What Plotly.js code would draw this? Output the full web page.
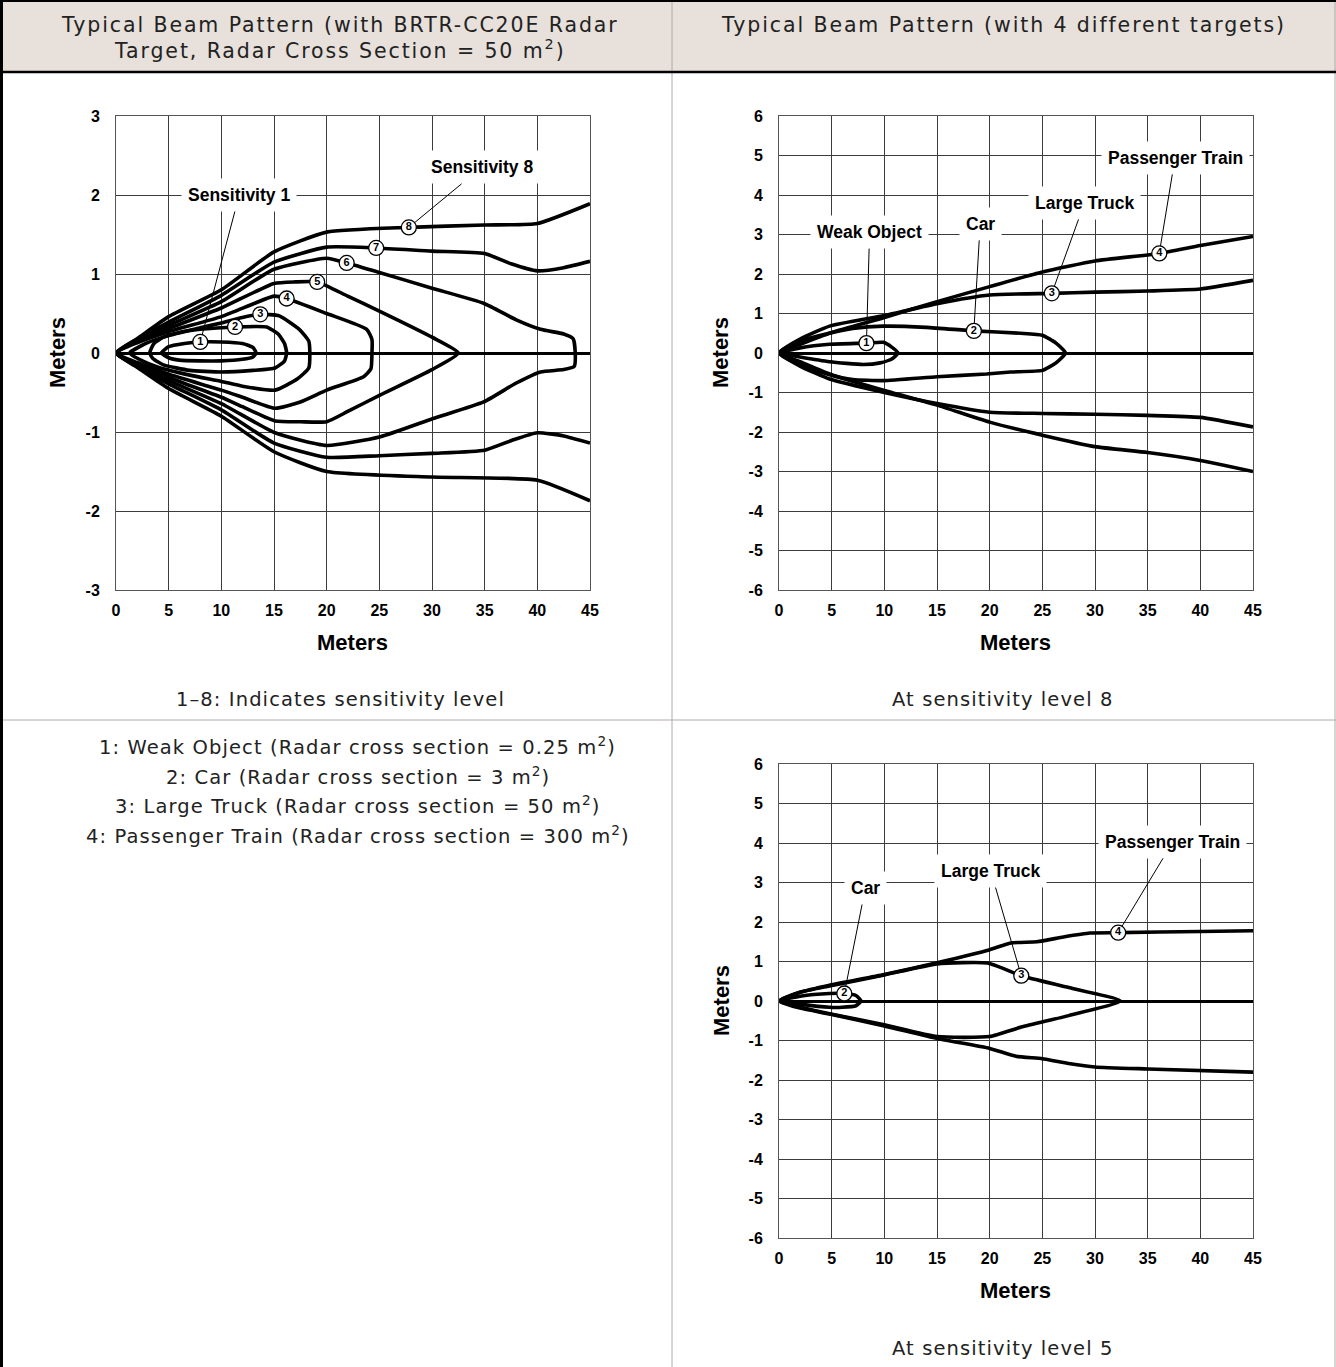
<!DOCTYPE html>
<html><head><meta charset="utf-8">
<script src="https://cdn.plot.ly/plotly-3.0.1.min.js"></script>
<style>html,body{margin:0;padding:0;background:#fff}</style>
</head><body><div id="chart" style="width:1336px;height:1367px"></div>
<script>
// ---------- Chart 1: sensitivity levels 1..8 (BRTR-CC20E target) ----------
const s1X = [4.3,5,6.5,8,10,12,13,13.3,13,12,10,8,6,5,4.3];
const s1Y = [0,0.08,0.12,0.14,0.14,0.12,0.07,0,-0.05,-0.08,-0.1,-0.1,-0.09,-0.06,0];
const s2X = [3.2,3.6,4.5,6,8,11.3,14.3,15.4,16,16.2,16,15.1,13,10,7,4.5,3.5,3.2];
const s2Y = [0,0.12,0.2,0.26,0.3,0.33,0.33,0.24,0.12,0,-0.1,-0.19,-0.22,-0.24,-0.22,-0.15,-0.07,0];
const s3X = [1.3,3,5,8,10,12,13.7,15.5,17.4,18.3,18.4,18.3,17.2,15.1,12,10,7,4,2.5,1.3];
const s3Y = [0,0.13,0.22,0.32,0.38,0.45,0.49,0.47,0.3,0.15,0,-0.19,-0.33,-0.47,-0.42,-0.36,-0.28,-0.18,-0.1,0];
const s4X = [0,2,5,10,13,15,16.2,20,23.8,24.3,24.3,24.2,23.5,20,17.5,15.1,12,10,5,2,0];
const s4Y = [0,0.13,0.27,0.46,0.62,0.72,0.69,0.5,0.3,0.17,0,-0.2,-0.3,-0.47,-0.62,-0.7,-0.56,-0.47,-0.27,-0.12,0];
const s5X = [0,2,5,10,15,17,19.1,22,25,30,32.5,30,25.1,22,20,17.5,15.1,12,10,5,2,0];
const s5Y = [0,0.15,0.31,0.57,0.88,0.9,0.9,0.72,0.53,0.2,0,-0.21,-0.53,-0.74,-0.87,-0.87,-0.86,-0.68,-0.56,-0.31,-0.14,0];
const s6X = [0,2,5,10,15,20,21.9,25,30,34.9,38,40.3,42.5,43.4,43.6,43.5,42.5,40.3,38,34.9,30.1,25.1,20,15.1,10,5,2,0];
const s6Y = [0,0.16,0.35,0.65,1.06,1.2,1.14,1.02,0.82,0.63,0.42,0.3,0.24,0.18,0,-0.17,-0.21,-0.24,-0.38,-0.62,-0.83,-1.06,-1.17,-1.01,-0.64,-0.35,-0.16,0];
const s7X = [45,42.5,40,37.5,35,30,24.7,20,15,10,5,2,0,2,5,10,15,20,25,30,35,37.5,40,42.5,45];
const s7Y = [1.16,1.08,1.04,1.13,1.26,1.29,1.33,1.34,1.15,0.73,0.39,0.17,0,-0.17,-0.39,-0.72,-1.14,-1.32,-1.3,-1.27,-1.23,-1.11,-1.01,-1.05,-1.14];
const s8X = [45,40,35,27.8,20,15,10,5,2,0,2,5,10,15,20,30,40,45];
const s8Y = [1.89,1.64,1.62,1.59,1.53,1.28,0.8,0.46,0.18,0,-0.18,-0.45,-0.8,-1.25,-1.5,-1.57,-1.61,-1.87];
const lvlTags = ['1','2','3','4','5','6','7','8'];
const lvlTagX = [8.0,11.3,13.7,16.2,19.1,21.9,24.7,27.8];
const lvlTagY = [0.14,0.33,0.49,0.69,0.9,1.14,1.33,1.59];

// ---------- Chart 2: four targets at sensitivity 8 ----------
const weak8X = [0,2,4.8,8.3,9.9,10.7,11.3,10.7,9.6,8,4.8,2,0];
const weak8Y = [0,0.13,0.22,0.25,0.27,0.15,0,-0.15,-0.25,-0.29,-0.22,-0.1,0];
const car8X = [0,2,4.8,7,9.9,14,18.5,22.9,25,26.3,27.2,26.3,25,22,19.7,15,9.9,7,4.8,2,0];
const car8Y = [0,0.3,0.5,0.62,0.68,0.65,0.56,0.5,0.45,0.25,0,-0.25,-0.44,-0.48,-0.53,-0.6,-0.7,-0.67,-0.55,-0.3,0];
const truck8X = [45,40,35,30,25.9,20,15,10,4.8,2,0,2,4.8,10,15,20,25,30,35,40,45];
const truck8Y = [1.84,1.62,1.57,1.54,1.51,1.47,1.25,0.95,0.68,0.35,0,-0.33,-0.66,-1.0,-1.28,-1.5,-1.53,-1.55,-1.58,-1.63,-1.87];
const train8X = [45,40,36.1,30,25,20,15,10,5,2,0,2,5,10,15,20,25,30,35,40,45];
const train8Y = [2.95,2.72,2.52,2.33,2.05,1.68,1.3,0.9,0.52,0.22,0,-0.22,-0.55,-0.95,-1.32,-1.75,-2.08,-2.37,-2.52,-2.72,-3.0];
const tgt8Tags = ['1','2','3','4'];
const tgt8TagX = [8.3,18.5,25.9,36.1];
const tgt8TagY = [0.25,0.56,1.51,2.52];
const tgt8Names = ['Weak Object','Car','Large Truck','Passenger Train'];
const tgt8NameX = [8.6,19.1,29.0,37.6];
const tgt8NameY = [3.06,3.27,3.8,4.94];

// ---------- Chart 3: targets at sensitivity 5 ----------
const car5X = [0,2,4.8,6.2,7.3,7.8,7.3,6,4.8,2,0];
const car5Y = [0,0.12,0.19,0.19,0.14,0,-0.12,-0.16,-0.16,-0.08,0];
const truck5X = [0,2,4.8,10,15,19.8,23,27.5,32.4,27.5,23,20,15,10,4.8,2,0];
const truck5Y = [0,0.22,0.38,0.66,0.94,0.96,0.64,0.34,0,-0.37,-0.66,-0.9,-0.9,-0.6,-0.32,-0.15,0];
const train5X = [45,40,32.2,29.5,27,24.5,22,20,15,10,4.8,2,0,2,4.8,10,15,20,22.5,25,27.5,30,35,45];
const train5Y = [1.78,1.76,1.73,1.72,1.62,1.5,1.47,1.3,0.97,0.67,0.4,0.22,0,-0.18,-0.33,-0.63,-0.95,-1.2,-1.4,-1.46,-1.58,-1.67,-1.72,-1.8];
const tgt5Tags = ['2','3','4'];
const tgt5TagX = [6.2,23.0,32.2];
const tgt5TagY = [0.19,0.64,1.73];
const tgt5Names = ['Car','Large Truck','Passenger Train'];
const tgt5NameX = [8.2,20.1,37.4];
const tgt5NameY = [2.86,3.29,4.03];

const xTicks = [0,5,10,15,20,25,30,35,40,45];
const yTicks3 = [-3,-2,-1,0,1,2,3];
const yTickText3 = ['-3','-2','-1','0','1','2','3'];
const yTicks6 = [-6,-5,-4,-3,-2,-1,0,1,2,3,4,5,6];
const yTickText6 = ['-6','-5','-4','-3','-2','-1','0','1','2','3','4','5','6'];

// ---------- helpers ----------
const W = 1336, H = 1367;
const px = p => p / W;
const py = p => 1 - p / H;

const LW = 3.6;
function curve(xs, ys, xa, ya) {
  return {type:'scatter', mode:'lines', x:xs, y:ys, xaxis:xa, yaxis:ya,
    line:{color:'#000', width:LW, shape:'spline', smoothing:0.5}, hoverinfo:'skip'};
}
function tags(xs, ys, t, xa, ya) {
  return {type:'scatter', mode:'markers+text', x:xs, y:ys, text:t, xaxis:xa, yaxis:ya,
    marker:{size:15, color:'#fff', line:{color:'#000', width:1.3}},
    textposition:'middle center',
    textfont:{family:'Liberation Sans, Arial, sans-serif', size:11, color:'#000', weight:'bold'},
    hoverinfo:'skip'};
}

const traces = [
  curve(s1X,s1Y,'x','y'), curve(s2X,s2Y,'x','y'), curve(s3X,s3Y,'x','y'), curve(s4X,s4Y,'x','y'),
  curve(s5X,s5Y,'x','y'), curve(s6X,s6Y,'x','y'), curve(s7X,s7Y,'x','y'), curve(s8X,s8Y,'x','y'),
  tags(lvlTagX,lvlTagY,lvlTags,'x','y'),
  curve(weak8X,weak8Y,'x2','y2'), curve(car8X,car8Y,'x2','y2'),
  curve(truck8X,truck8Y,'x2','y2'), curve(train8X,train8Y,'x2','y2'),
  tags(tgt8TagX,tgt8TagY,tgt8Tags,'x2','y2'),
  curve(car5X,car5Y,'x3','y3'), curve(truck5X,truck5Y,'x3','y3'), curve(train5X,train5Y,'x3','y3'),
  tags(tgt5TagX,tgt5TagY,tgt5Tags,'x3','y3')
];

const tickFont = {family:'Liberation Sans, Arial, sans-serif', size:16, color:'#000', weight:'bold'};
function xAxis(dom, anchor) {
  return {domain:dom, anchor:anchor, range:[0,45], tickvals:xTicks, ticks:'', showgrid:true,
    gridcolor:'#3c3c3c', gridwidth:1, zeroline:false, showline:true, mirror:true,
    linecolor:'#555', linewidth:1, tickfont:tickFont, ticklabelstandoff:6, fixedrange:true};
}
function yAxis(dom, anchor, rng, tv, tt) {
  return {domain:dom, anchor:anchor, range:rng, tickvals:tv, ticktext:tt, ticks:'', showgrid:true,
    gridcolor:'#3c3c3c', gridwidth:1, zeroline:true, zerolinecolor:'#000', zerolinewidth:3,
    showline:true, mirror:true, linecolor:'#555', linewidth:1, tickfont:tickFont,
    ticklabelstandoff:12, fixedrange:true};
}

const domXL = [px(116), px(590)], domXR = [px(779), px(1253)];
const domYT = [py(590), py(116)], domYB = [py(1238), py(764)];

const annFont = {family:'Liberation Sans, Arial, sans-serif', size:17.5, color:'#000', weight:'bold'};
const anns = [];
function callout(text, tx, ty, hx, hy, xa, ya) {
  anns.push({text:text, x:hx, y:hy, xref:xa, yref:ya, ax:tx, ay:ty, axref:xa, ayref:ya,
    showarrow:true, arrowhead:0, arrowwidth:1, arrowcolor:'#000', standoff:7.5,
    bgcolor:'#fff', borderpad:6, font:annFont});
}
callout('Sensitivity 1', 11.7, 2.0, lvlTagX[0], lvlTagY[0], 'x', 'y');
callout('Sensitivity 8', 34.7, 2.35, lvlTagX[7], lvlTagY[7], 'x', 'y');
tgt8Names.forEach((n,i) => callout(n, tgt8NameX[i], tgt8NameY[i], tgt8TagX[i], tgt8TagY[i], 'x2', 'y2'));
tgt5Names.forEach((n,i) => callout(n, tgt5NameX[i], tgt5NameY[i], tgt5TagX[i], tgt5TagY[i], 'x3', 'y3'));

const titleFont = {family:'Liberation Sans, Arial, sans-serif', size:22, color:'#000', weight:'bold'};
function paperText(text, x, y, font, extra) {
  anns.push(Object.assign({text:text, x:px(x), y:py(y), xref:'paper', yref:'paper',
    showarrow:false, xanchor:'center', yanchor:'middle', font:font}, extra || {}));
}
paperText('Meters', 352, 642, titleFont);
paperText('Meters', 1015, 642, titleFont);
paperText('Meters', 1015, 1290, titleFont);
paperText('Meters', 58, 353, titleFont, {textangle:-90});
paperText('Meters', 721, 353, titleFont, {textangle:-90});
paperText('Meters', 721, 1001, titleFont, {textangle:-90});

const hdrFont = {family:'DejaVu Sans, sans-serif', size:20.5, color:'#222'};
const bodyFont = {family:'DejaVu Sans, sans-serif', size:19.5, color:'#222'};
const spaced = (t, s) => '<span style="letter-spacing:' + s + 'px">' + t + '</span>';
paperText(spaced('Typical Beam Pattern (with BRTR-CC20E Radar', 1.9), 340, 25, hdrFont);
paperText(spaced('Target, Radar Cross Section = 50 m<sup>2</sup>)', 1.9), 340, 49, hdrFont);
paperText(spaced('Typical Beam Pattern (with 4 different targets)', 1.9), 1003, 25, hdrFont);
paperText(spaced('1–8: Indicates sensitivity level', 1.1), 340, 700, bodyFont);
paperText(spaced('At sensitivity level 8', 1.1), 1003, 700, bodyFont);
paperText(spaced('At sensitivity level 5', 1.1), 1003, 1348, bodyFont);
const legendLines = [
  '1: Weak Object (Radar cross section = 0.25 m<sup>2</sup>)',
  '2: Car (Radar cross section = 3 m<sup>2</sup>)',
  '3: Large Truck (Radar cross section = 50 m<sup>2</sup>)',
  '4: Passenger Train (Radar cross section = 300 m<sup>2</sup>)'
];
legendLines.forEach((t,i) => paperText(spaced(t, 1.1), 358, 746 + i*29.5, bodyFont));

function hline(y, x0, x1, color, w) {
  return {type:'line', xref:'paper', yref:'paper', x0:px(x0), x1:px(x1), y0:py(y), y1:py(y), line:{color:color, width:w}};
}
function vline(x, y0, y1, color, w) {
  return {type:'line', xref:'paper', yref:'paper', x0:px(x), x1:px(x), y0:py(y0), y1:py(y1), line:{color:color, width:w}};
}
const shapes = [
  {type:'rect', xref:'paper', yref:'paper', x0:0, x1:1, y0:py(72), y1:1, fillcolor:'#e7e0db', line:{width:0}, layer:'below'},
  vline(672, 0, 1367, '#b0aaa6', 1),
  vline(1335, 0, 1367, '#b0aaa6', 1),
  hline(720, 0, 1336, '#b0aaa6', 1),
  hline(1, 0, 1336, '#000', 2),
  hline(72, 0, 1336, '#000', 2.5),
  vline(1.5, 0, 1367, '#000', 3)
];

const layout = {
  width:W, height:H, margin:{l:0,r:0,t:0,b:0,pad:0},
  paper_bgcolor:'#fff', plot_bgcolor:'#fff', showlegend:false, hovermode:false,
  xaxis:xAxis(domXL,'y'), yaxis:yAxis(domYT,'x',[-3,3],yTicks3,yTickText3),
  xaxis2:xAxis(domXR,'y2'), yaxis2:yAxis(domYT,'x2',[-6,6],yTicks6,yTickText6),
  xaxis3:xAxis(domXR,'y3'), yaxis3:yAxis(domYB,'x3',[-6,6],yTicks6,yTickText6),
  annotations:anns, shapes:shapes
};
Plotly.newPlot('chart', traces, layout, {staticPlot:true, displayModeBar:false});
</script>
</body></html>
